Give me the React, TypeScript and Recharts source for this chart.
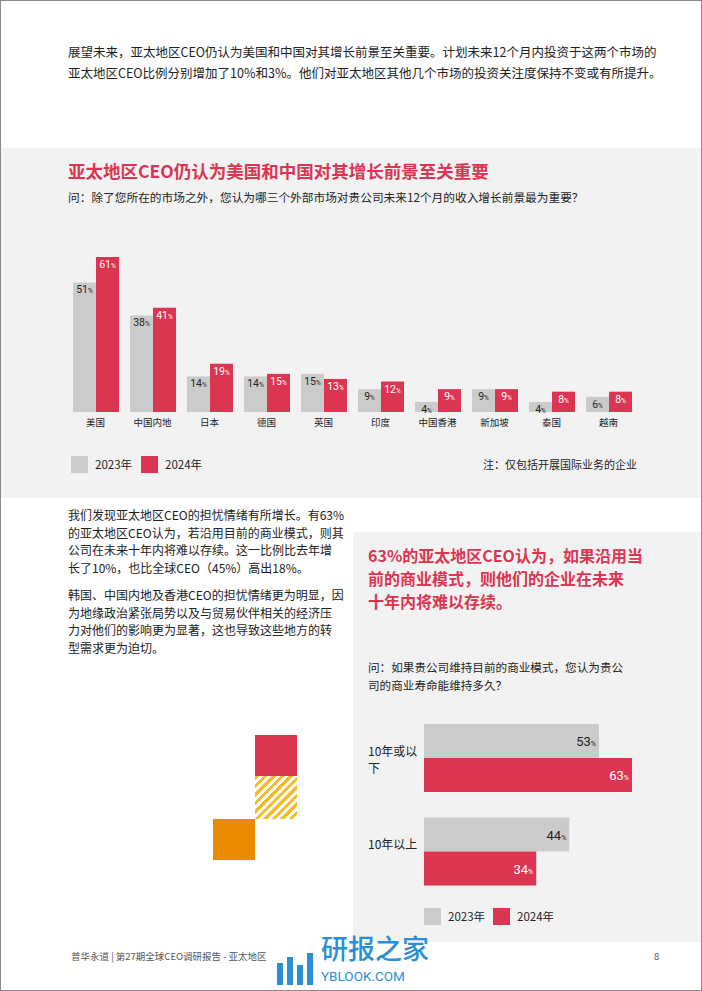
import { BarChart, Bar, XAxis, YAxis, LabelList } from 'recharts';

const markets = ['美国', '中国内地', '日本', '德国', '英国', '印度', '中国香港', '新加坡', '泰国', '越南'];
const markets2023 = [51, 38, 14, 14, 15, 9, 4, 9, 4, 6];
const markets2024 = [61, 41, 19, 15, 13, 12, 9, 9, 8, 8];

const lifespans = ['10年或以下', '10年以上'];
const life2023 = [53, 44];
const life2024 = [63, 34];

const RED = '#dc3552';
const GRAY = '#cbcbcb';
const BAND = '#f2f2f2';
const CJK = "'Noto Sans CJK SC', sans-serif";

const pctLabel = (color, horizontal) => (props) => {
  const { x, y, width, height, value } = props;
  if (horizontal) {
    return (
      <text x={x + width - 3} y={y + height / 2 + 5} textAnchor="end" fill={color} fontFamily="Roboto, sans-serif" fontSize={13}>
        <tspan>{value}</tspan>
        <tspan fontSize={7}>%</tspan>
      </text>
    );
  }
  return (
    <text x={x + width / 2} y={y + 11} textAnchor="middle" fill={color} fontFamily="Roboto, sans-serif" fontSize={10.5}>
      <tspan>{value}</tspan>
      <tspan fontSize={6.5}>%</tspan>
    </text>
  );
};

const LifeTick = ({ y, payload }) => {
  const label = payload.value;
  const lines = label.length > 5 ? [label.slice(0, 5), label.slice(5)] : [label];
  return (
    <text x={15} y={y - 8} fill="#222" fontFamily={CJK} fontSize={12} dominantBaseline="central">
      {lines.map((l, i) => (
        <tspan key={i} x={15} dy={i === 0 ? 0 : 17}>{l}</tspan>
      ))}
    </text>
  );
};

const Swatch = ({ left, top, color, label }) => (
  <>
    <div style={{ position: 'absolute', left, top, width: 17, height: 17, background: color }} />
    <div style={{ position: 'absolute', left: left + 24, top: top, lineHeight: '17px', fontSize: 11.5, color: '#222' }}>{label}</div>
  </>
);

const abs = (left, top, extra = {}) => ({ position: 'absolute', left, top, ...extra });

export default function App() {
  const marketData = markets.map((m, i) => ({ name: m, y2023: markets2023[i], y2024: markets2024[i] }));
  const lifeData = lifespans.map((m, i) => ({ name: m, y2023: life2023[i], y2024: life2024[i] }));

  return (
    <div style={{ position: 'absolute', left: 0, top: 0, width: 702, height: 991, background: '#fff', border: '1px solid #8a8a8a', boxSizing: 'border-box', fontFamily: CJK, color: '#222', overflow: 'hidden' }}>
      <div style={abs(67, 40, { fontSize: 12.5, lineHeight: '21px', whiteSpace: 'nowrap' })}>
        <div>展望未来，亚太地区CEO仍认为美国和中国对其增长前景至关重要。计划未来12个月内投资于这两个市场的</div>
        <div>亚太地区CEO比例分别增加了10%和3%。他们对亚太地区其他几个市场的投资关注度保持不变或有所提升。</div>
      </div>

      <div style={abs(0, 147, { width: 702, height: 350, background: BAND })} />
      <div style={abs(67, 159, { fontSize: 17.5, lineHeight: '22px', fontWeight: 700, color: RED, whiteSpace: 'nowrap' })}>
        亚太地区CEO仍认为美国和中国对其增长前景至关重要
      </div>
      <div style={abs(67, 188, { fontSize: 11.7, lineHeight: '16px', whiteSpace: 'nowrap' })}>
        问：除了您所在的市场之外，您认为哪三个外部市场对贵公司未来12个月的收入增长前景最为重要？
      </div>

      <div style={abs(0, 240)}>
        <BarChart width={702} height={200} data={marketData} margin={{ top: 16, right: 66, bottom: 0, left: 66 }} barGap={0} barSize={23}>
          <XAxis dataKey="name" height={29} axisLine={false} tickLine={false} tickSize={4} tickMargin={3} interval={0} tick={{ fontSize: 9.5, fill: '#222', fontFamily: CJK }} />
          <YAxis hide domain={[0, 'dataMax']} />
          <Bar dataKey="y2023" fill={GRAY} isAnimationActive={false}>
            <LabelList dataKey="y2023" content={pctLabel('#222', false)} />
          </Bar>
          <Bar dataKey="y2024" fill={RED} isAnimationActive={false}>
            <LabelList dataKey="y2024" content={pctLabel('#fff', false)} />
          </Bar>
        </BarChart>
      </div>

      <Swatch left={70} top={455} color={GRAY} label="2023年" />
      <Swatch left={140} top={455} color={RED} label="2024年" />
      <div style={abs(482, 455, { fontSize: 11, lineHeight: '17px', whiteSpace: 'nowrap' })}>注：仅包括开展国际业务的企业</div>

      <div style={abs(67, 505, { fontSize: 12, lineHeight: '17.5px', whiteSpace: 'nowrap' })}>
        <div>我们发现亚太地区CEO的担忧情绪有所增长。有63%</div>
        <div>的亚太地区CEO认为，若沿用目前的商业模式，则其</div>
        <div>公司在未来十年内将难以存续。这一比例比去年增</div>
        <div>长了10%，也比全球CEO（45%）高出18%。</div>
      </div>
      <div style={abs(67, 585, { fontSize: 12, lineHeight: '17.5px', whiteSpace: 'nowrap' })}>
        <div>韩国、中国内地及香港CEO的担忧情绪更为明显，因</div>
        <div>为地缘政治紧张局势以及与贸易伙伴相关的经济压</div>
        <div>力对他们的影响更为显著，这也导致这些地方的转</div>
        <div>型需求更为迫切。</div>
      </div>

      <div style={abs(254, 734, { width: 42, height: 41, background: RED })} />
      <div style={abs(254, 775, { width: 42, height: 43, background: 'repeating-linear-gradient(135deg, #f6bb2a 0px, #f6bb2a 3px, #fff 3px, #fff 6px)' })} />
      <div style={abs(212, 818, { width: 42, height: 41, background: '#eb8c00' })} />

      <div style={abs(352, 531, { width: 350, height: 410, background: BAND })} />
      <div style={abs(367, 543, { fontSize: 16, lineHeight: '23px', fontWeight: 700, color: RED, whiteSpace: 'nowrap' })}>
        <div>63%的亚太地区CEO认为，如果沿用当</div>
        <div>前的商业模式，则他们的企业在未来</div>
        <div>十年内将难以存续。</div>
      </div>
      <div style={abs(367, 657, { fontSize: 11.6, lineHeight: '18px', whiteSpace: 'nowrap' })}>
        <div>问：如果贵公司维持目前的商业模式，您认为贵公</div>
        <div>司的商业寿命能维持多久？</div>
      </div>

      <div style={abs(352, 710)}>
        <BarChart width={350} height={187} layout="vertical" data={lifeData} margin={{ top: 0, right: 71, bottom: 0, left: 0 }} barGap={0} barSize={34}>
          <XAxis type="number" hide domain={[0, 'dataMax']} />
          <YAxis type="category" dataKey="name" width={71} axisLine={false} tickLine={false} tick={<LifeTick />} />
          <Bar dataKey="y2023" fill={GRAY} isAnimationActive={false}>
            <LabelList dataKey="y2023" content={pctLabel('#222', true)} />
          </Bar>
          <Bar dataKey="y2024" fill={RED} isAnimationActive={false}>
            <LabelList dataKey="y2024" content={pctLabel('#fff', true)} />
          </Bar>
        </BarChart>
      </div>

      <Swatch left={423} top={907} color={GRAY} label="2023年" />
      <Swatch left={492} top={907} color={RED} label="2024年" />

      <div style={abs(70, 948, { fontSize: 9.5, lineHeight: '14px', color: '#555', whiteSpace: 'nowrap' })}>
        普华永道 | 第27期全球CEO调研报告 - 亚太地区
      </div>
      <div style={abs(653, 948, { fontSize: 9.5, lineHeight: '14px', color: '#555' })}>8</div>

      <div style={abs(276, 962, { width: 6, height: 22, background: '#2b8fd6' })} />
      <div style={abs(286, 956, { width: 6, height: 28, background: '#2b8fd6' })} />
      <div style={abs(296, 964, { width: 6, height: 20, background: '#2b8fd6' })} />
      <div style={abs(306, 952, { width: 6, height: 32, background: '#2b8fd6' })} />
      <div style={abs(320, 930, { fontSize: 27, lineHeight: '34px', color: '#2b8fd6', fontWeight: 500, whiteSpace: 'nowrap' })}>研报之家</div>
      <div style={abs(320, 966, { fontSize: 13.5, lineHeight: '18px', color: '#2b8fd6', whiteSpace: 'nowrap', fontFamily: 'Roboto, sans-serif' })}>YBLOOK.COM</div>
    </div>
  );
}
